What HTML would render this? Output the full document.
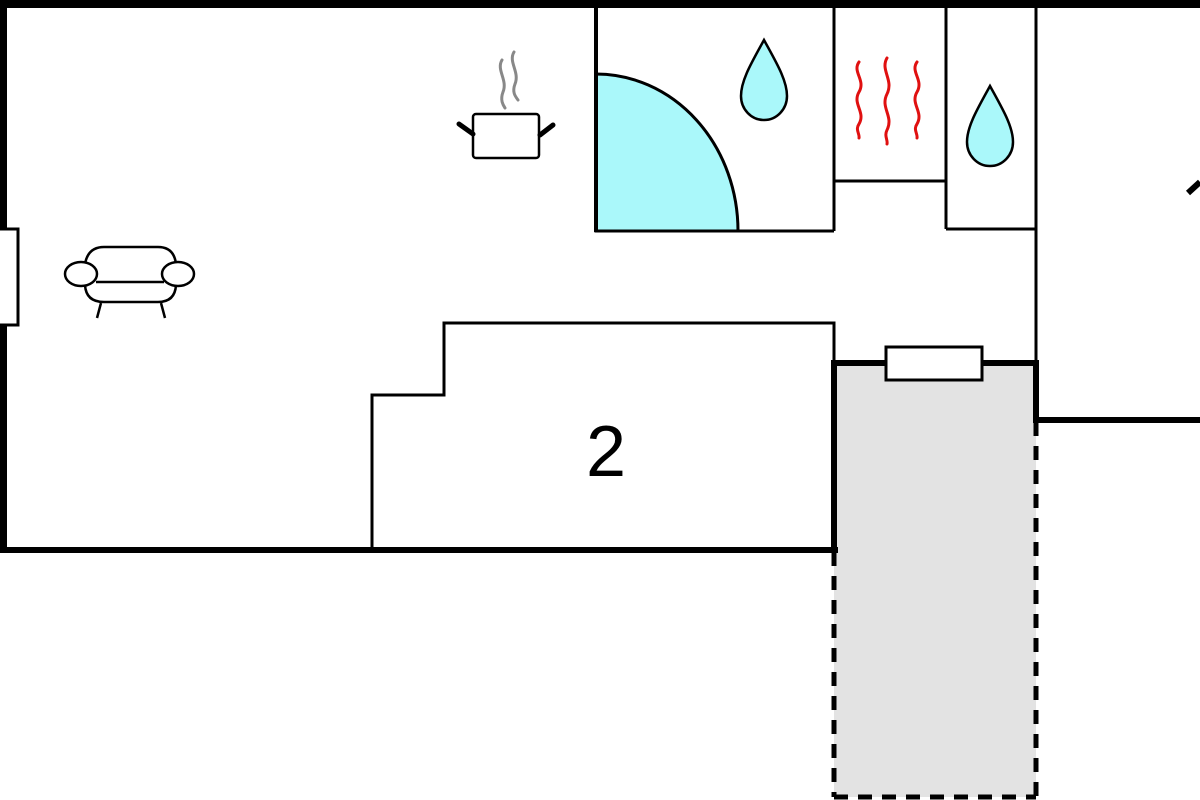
<!DOCTYPE html>
<html><head><meta charset="utf-8"><style>
html,body{margin:0;padding:0;background:#fff;width:1200px;height:800px;overflow:hidden}
svg{display:block}
</style></head><body>
<svg width="1200" height="800" viewBox="0 0 1200 800" xmlns="http://www.w3.org/2000/svg">
<rect width="1200" height="800" fill="#fff"/>
<rect x="834" y="362" width="202" height="435" fill="#e3e3e3"/>
<g stroke="#000" fill="none" stroke-width="5" stroke-dasharray="14 10">
<line x1="834" y1="552" x2="834" y2="797"/>
<line x1="1036" y1="422" x2="1036" y2="797"/>
<line x1="834" y1="797" x2="1036" y2="797"/>
</g>
<g stroke="#000" fill="none">
<line x1="0" y1="4" x2="1200" y2="4" stroke-width="8"/>
<line x1="3.5" y1="0" x2="3.5" y2="553" stroke-width="7"/>
<line x1="0" y1="550" x2="838" y2="550" stroke-width="6"/>
<line x1="834" y1="360" x2="834" y2="553" stroke-width="6"/>
<line x1="831" y1="363" x2="1039" y2="363" stroke-width="6"/>
<line x1="1036" y1="360" x2="1036" y2="423" stroke-width="6"/>
<line x1="1033" y1="420" x2="1200" y2="420" stroke-width="6"/>
<line x1="1036" y1="8" x2="1036" y2="362" stroke-width="3"/>
</g>
<rect x="-2" y="229" width="20" height="96" fill="#fff" stroke="#000" stroke-width="3"/>
<rect x="886" y="347" width="96" height="33" fill="#fff" stroke="#000" stroke-width="3"/>
<polyline points="372,550 372,395 444,395 444,323 834,323 834,362" fill="none" stroke="#000" stroke-width="3"/>
<text x="606" y="476" font-family="Liberation Sans, sans-serif" font-size="72" text-anchor="middle" fill="#000">2</text>
<path d="M596,74 A142,157 0 0 1 738,231 L596,231 Z" fill="#aaf8fa" stroke="#000" stroke-width="3"/>
<g stroke="#000" fill="none" stroke-width="3">
<line x1="596" y1="8" x2="596" y2="232" stroke-width="4"/>
<line x1="596" y1="231" x2="834" y2="231"/>
<line x1="834" y1="8" x2="834" y2="231"/>
<line x1="834" y1="181" x2="946" y2="181"/>
<line x1="946" y1="8" x2="946" y2="229"/>
<line x1="946" y1="229" x2="1036" y2="229"/>
</g>
<path d="M764,40 C776,62 787,80 787,96 A23,24 0 0 1 741,96 C741,80 752,62 764,40 Z" fill="#aaf8fa" stroke="#000" stroke-width="2.5"/>
<path d="M990,86 C1002,108 1013,126 1013,142 A23,24 0 0 1 967,142 C967,126 978,108 990,86 Z" fill="#aaf8fa" stroke="#000" stroke-width="2.5"/>
<g stroke="#e01010" stroke-width="3" fill="none" stroke-linecap="round">
<path d="M859,62 C852,72 866,80 859,92 C852,104 866,112 859,124 C855,130 860,134 859,138"/>
<path d="M887,58 C880,70 894,80 887,94 C880,108 894,116 887,130 C884,136 888,140 887,144"/>
<path d="M917,62 C910,72 924,80 917,92 C910,104 924,112 917,124 C913,130 918,134 917,138"/>
</g>
<g stroke="#888" stroke-width="3" fill="none" stroke-linecap="round">
<path d="M502,60 C496,70 508,80 503,92 C500,100 503,105 505,108"/>
<path d="M514,52 C508,62 520,72 515,84 C512,92 515,96 518,100"/>
</g>
<rect x="473" y="114" width="66" height="44" rx="3" fill="#fff" stroke="#000" stroke-width="2.5"/>
<line x1="459" y1="124" x2="473" y2="134" stroke="#000" stroke-width="5" stroke-linecap="round"/>
<line x1="553" y1="125" x2="540" y2="135" stroke="#000" stroke-width="5" stroke-linecap="round"/>
<!-- armchair -->
<g stroke="#000" stroke-width="2.5" fill="none">
<path d="M85,264 Q88,247 104,247 L158,247 Q174,247 176,264"/>
<path d="M85,285 Q86,302 104,302 L158,302 Q175,302 176,285"/>
<line x1="96" y1="282" x2="164" y2="282"/>
<ellipse cx="81" cy="274" rx="16" ry="12" fill="#fff"/>
<ellipse cx="178" cy="274" rx="16" ry="12" fill="#fff"/>
<line x1="101" y1="303" x2="97" y2="318"/>
<line x1="161" y1="303" x2="165" y2="318"/>
</g>
<line x1="1188" y1="193" x2="1200" y2="182" stroke="#000" stroke-width="6"/>
</svg>
</body></html>
